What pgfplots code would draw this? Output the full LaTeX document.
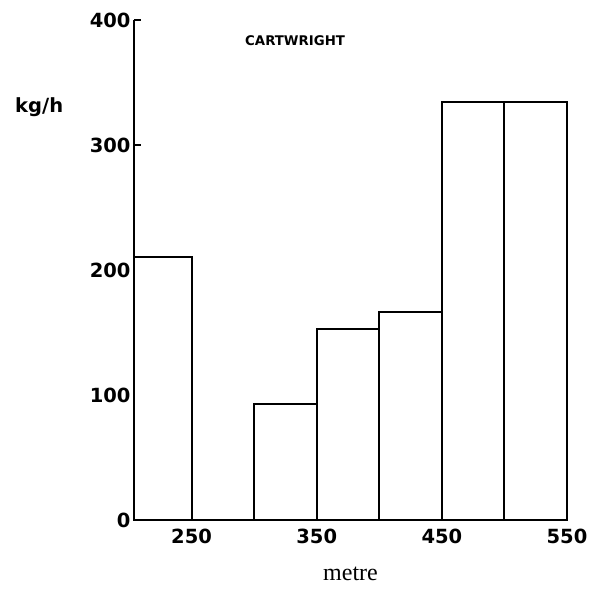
\documentclass[border=0pt]{standalone}
\usepackage{fontspec}
\usepackage{pgfplots}
\pgfplotsset{compat=1.18}
\setmainfont{Liberation Serif}
\newfontfamily\lerf{DejaVu Sans}
\begin{document}
\begin{tikzpicture}
\useasboundingbox (-134pt,-71pt) rectangle (456pt,520pt);
\begin{axis}[
  scale only axis, width=433pt, height=500pt,
  at={(0,0)}, anchor=south west,
  xmin=204, xmax=550, ymin=0, ymax=400,
  axis x line=bottom, axis y line=left,
  axis line style={-, line width=2.2pt, black},
  xtick={250,350,450,550}, xticklabels={250,350,450,550},
  ytick={0,100,200,300,400}, yticklabels={0,100,200,300,400},
  tick align=inside,
  major tick length=7pt,
  x tick style={draw=none},
  y tick style={line width=1.8pt, black},
  ticklabel style={font=\lerf\bfseries\fontsize{19.5}{21}\selectfont},
  xticklabel style={yshift=-5pt},
  xlabel={metre},
  xlabel style={font=\fontsize{24}{26}\selectfont, yshift=-17pt},
  clip=false,
]
\addplot[ybar interval, fill=white, draw=black, line width=2pt]
  coordinates {(204,210) (250,0) (300,93) (350,153) (400,166) (450,334) (500,334) (550,334)};
\node[font=\lerf\bfseries\fontsize{13.3}{15}\selectfont] at (rel axis cs:0.372,0.958) {CARTWRIGHT};
\node[font=\lerf\bfseries\fontsize{19.5}{21}\selectfont] at (rel axis cs:-0.219,0.826) {kg/h};
\end{axis}
\end{tikzpicture}
\end{document}
